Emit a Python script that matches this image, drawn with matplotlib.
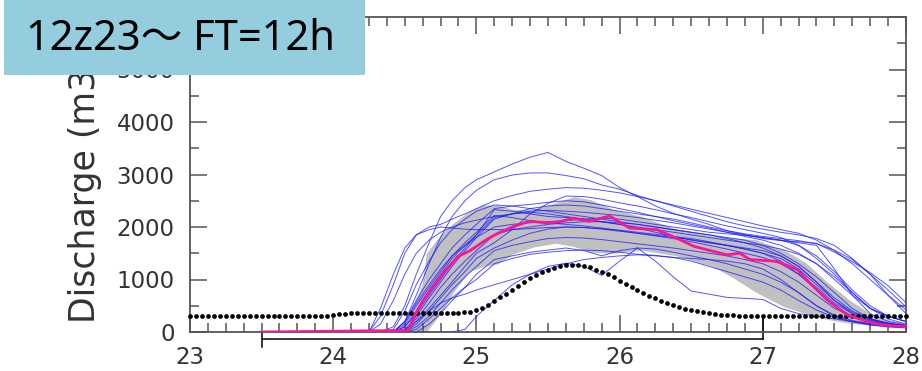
import matplotlib
matplotlib.use("Agg")
import matplotlib.pyplot as plt
from matplotlib.patches import Rectangle
import matplotlib.transforms as mtransforms
import numpy as np

# ---------------- data ----------------
title_text = "12z23～ FT=12h"
ylabel_text = "Discharge (m3/s)"
x_ticks = [23, 24, 25, 26, 27, 28]
y_ticks = [0, 1000, 2000, 3000, 4000, 5000, 6000]
forecast_period = [23.5, 27.0]

# observed discharge, hourly from 23.00 to 28.00
obs_values = [
    310, 310, 310, 310, 310, 310, 310, 310, 310, 310, 310, 310,
    310, 310, 310, 310, 310, 310, 310, 310, 310, 310, 310, 310,
    320, 335, 350, 360, 370, 370, 370, 370, 370, 370, 370, 370,
    370, 370, 365, 362, 360, 360, 362, 365, 370, 370, 372, 380,
    420, 460, 520, 590, 660, 730, 800, 870, 950, 1020, 1080, 1140,
    1180, 1220, 1250, 1270, 1280, 1275, 1260, 1230, 1190, 1150, 1100, 1040,
    980, 920, 860, 800, 740, 690, 640, 590, 550, 510, 475, 445,
    420, 395, 375, 358, 345, 333, 325, 318, 313, 310, 310, 310,
    310, 310, 310, 310, 310, 310, 310, 310, 310, 310, 310, 310,
    310, 310, 310, 310, 310, 310, 310, 310, 310, 310, 310, 310,
    310,
]

# spread band (shaded)
band_t = [24.45, 24.55, 24.62, 24.65, 24.75, 24.85, 24.95, 25.05, 25.15, 25.25,
          25.4, 25.55, 25.68, 25.8, 25.95, 26.15, 26.4, 26.65, 26.8, 26.95,
          27.15, 27.3, 27.45, 27.6, 27.75, 27.9, 28.0]
band_upper = [0, 450, 900, 1500, 1850, 2100, 2300, 2420, 2420, 2340,
              2330, 2460, 2580, 2520, 2340, 2200, 1960, 1830, 1790, 1760,
              1560, 1320, 950, 620, 350, 220, 170]
band_lower = [0, 0, 0, 0, 350, 800, 1150, 1250, 1300, 1480,
              1620, 1690, 1630, 1520, 1500, 1560, 1450, 1250, 1020, 760,
              480, 350, 240, 170, 140, 110, 100]

# ensemble mean (magenta)
mean_t = [23.5, 24.52, 24.59, 24.63, 24.75, 24.87, 24.95, 25.07, 25.15, 25.26,
          25.37, 25.49, 25.58, 25.68, 25.74, 25.79, 25.93, 26.07, 26.26, 26.42,
          26.52, 26.75, 26.84, 26.91, 27.1, 27.24, 27.33, 27.45, 27.59, 27.73,
          27.84, 28.0]
mean_v = [0, 30, 420, 610, 1060, 1440, 1540, 1760, 1880, 2010,
          2110, 2080, 2100, 2170, 2130, 2110, 2210, 1980, 1950, 1760,
          1630, 1470, 1500, 1380, 1345, 1190, 930, 610, 325, 200,
          135, 100]

# ensemble members (blue)
member_t = [24.25, 24.33, 24.42, 24.5, 24.58, 24.67, 24.75, 24.83, 24.92, 25.0,
            25.125, 25.25, 25.375, 25.5, 25.625, 25.75, 25.875, 26.0, 26.125, 26.25,
            26.375, 26.5, 26.625, 26.75, 26.875, 27.0, 27.125, 27.25, 27.375, 27.5,
            27.625, 27.75, 27.875, 28.0]
m01 = [0, 0, 100, 500, 1100, 1700, 2200, 2500, 2750, 2900,
       3050, 3200, 3330, 3420, 3250, 3120, 2980, 2750, 2580, 2400,
       2260, 2150, 2050, 1930, 1850, 1780, 1740, 1720, 1690, 1520,
       1340, 1130, 880, 560]
m02 = [0, 0, 0, 200, 700, 1300, 1800, 2200, 2500, 2700,
       2900, 2990, 3030, 3030, 2980, 2920, 2800, 2720, 2600, 2500,
       2400, 2300, 2200, 2100, 2020, 1960, 1900, 1850, 1780, 1650,
       1400, 1100, 800, 480]
m03 = [0, 300, 900, 1500, 1850, 2000, 2050, 2150, 2250, 2350,
       2500, 2600, 2680, 2720, 2750, 2740, 2700, 2650, 2580, 2500,
       2420, 2340, 2260, 2180, 2100, 2020, 1950, 1880, 1750, 1550,
       1300, 1000, 700, 420]
m04 = [0, 0, 0, 200, 600, 1000, 1300, 1600, 1850, 2050,
       2350, 2400, 2430, 2470, 2500, 2480, 2420, 2350, 2280, 2200,
       2120, 2050, 1980, 1900, 1820, 1750, 1650, 1500, 1300, 1000,
       700, 450, 300, 200]
m05 = [0, 0, 50, 400, 900, 1350, 1700, 1950, 2150, 2300,
       2420, 2400, 2350, 2300, 2250, 2200, 2150, 2100, 2050, 2000,
       1950, 1900, 1850, 1800, 1750, 1650, 1500, 1300, 1050, 750,
       450, 250, 150, 100]
m06 = [0, 0, 0, 0, 200, 450, 700, 950, 1250, 1500,
       1700, 1950, 2250, 2450, 2590, 2580, 2530, 2460, 2400, 2330,
       2250, 2180, 2100, 2020, 1950, 1880, 1800, 1650, 1400, 1100,
       750, 450, 300, 200]
m07 = [0, 0, 0, 150, 500, 850, 1150, 1450, 1700, 1900,
       2220, 2180, 2120, 2080, 2050, 2020, 1980, 1930, 1880, 1830,
       1780, 1720, 1650, 1580, 1500, 1420, 1300, 1100, 850, 550,
       350, 230, 160, 120]
m08 = [0, 0, 0, 100, 350, 700, 1000, 1300, 1600, 1850,
       2330, 2300, 2250, 2200, 2180, 2150, 2100, 2050, 1980, 1900,
       1820, 1750, 1700, 1650, 1600, 1550, 1450, 1250, 950, 600,
       350, 220, 150, 100]
m09 = [0, 0, 0, 50, 250, 550, 850, 1100, 1350, 1550,
       1850, 1950, 2000, 2050, 2080, 2100, 2100, 2080, 2050, 2000,
       1950, 1900, 1850, 1780, 1700, 1600, 1450, 1250, 950, 650,
       400, 250, 170, 120]
m10 = [0, 0, 0, 0, 150, 400, 650, 900, 1150, 1400,
       1600, 1750, 1880, 1960, 2000, 1990, 1960, 1920, 1880, 1840,
       1800, 1760, 1700, 1650, 1580, 1500, 1400, 1200, 900, 600,
       380, 250, 170, 120]
m11 = [0, 0, 0, 0, 100, 300, 550, 800, 1050, 1250,
       1550, 1650, 1720, 1780, 1800, 1790, 1760, 1720, 1680, 1640,
       1600, 1550, 1500, 1450, 1380, 1300, 1150, 950, 700, 450,
       300, 200, 140, 100]
m12 = [0, 0, 0, 0, 0, 150, 350, 600, 850, 1100,
       1380, 1450, 1520, 1560, 1600, 1550, 1450, 1550, 1600, 1580,
       1520, 1450, 1380, 1300, 1200, 1100, 950, 750, 500, 320,
       220, 160, 120, 90]
m13 = [0, 0, 0, 0, 0, 0, 0, 0, 50, 300,
       600, 900, 1100, 1250, 1310, 1250, 1080, 1350, 1600, 1350,
       1050, 780, 720, 660, 640, 620, 450, 350, 300, 250,
       200, 160, 120, 90]
m14 = [0, 0, 0, 0, 50, 250, 450, 650, 850, 1000,
       1300, 1400, 1480, 1520, 1550, 1560, 1550, 1520, 1480, 1450,
       1420, 1400, 1380, 1350, 1300, 1200, 1000, 750, 500, 300,
       200, 140, 100, 80]
m15 = [0, 0, 0, 50, 200, 400, 550, 650, 720, 800,
       900, 1000, 1100, 1200, 1300, 1380, 1420, 1450, 1470, 1460,
       1420, 1350, 1250, 1150, 1050, 950, 800, 600, 420, 280,
       190, 130, 100, 80]
m16 = [0, 150, 600, 1100, 1500, 1750, 1900, 2000, 2080, 2130,
       2200, 2250, 2280, 2250, 2200, 2150, 2100, 2050, 2000, 1950,
       1900, 1850, 1800, 1750, 1700, 1650, 1580, 1480, 1300, 1050,
       750, 450, 250, 150]
m17 = [0, 0, 0, 200, 550, 900, 1200, 1450, 1650, 1800,
       2000, 2050, 2080, 2100, 2120, 2150, 2170, 2150, 2100, 2050,
       2000, 1950, 1900, 1870, 1840, 1800, 1750, 1650, 1450, 1150,
       800, 500, 300, 200]
m18 = [0, 0, 0, 100, 400, 800, 1100, 1400, 1650, 1850,
       2180, 2250, 2300, 2320, 2300, 2280, 2250, 2220, 2180, 2130,
       2080, 2020, 1960, 1900, 1850, 1800, 1750, 1700, 1650, 1200,
       700, 350, 200, 130]
m19 = [0, 0, 0, 0, 300, 650, 950, 1250, 1550, 1800,
       2150, 2250, 2350, 2400, 2420, 2400, 2350, 2300, 2250, 2200,
       2150, 2080, 2000, 1930, 1870, 1820, 1780, 1740, 1680, 1560,
       1380, 1100, 700, 350]
m20 = [0, 450, 1100, 1600, 1850, 1950, 2000, 1980, 1960, 1950,
       1950, 1950, 1970, 1990, 2000, 1990, 1970, 1940, 1900, 1860,
       1820, 1780, 1720, 1650, 1580, 1500, 1350, 1100, 800, 500,
       300, 200, 140, 100]
members = [m01, m02, m03, m04, m05, m06, m07, m08, m09, m10,
           m11, m12, m13, m14, m15, m16, m17, m18, m19, m20]

# ---------------- figure ----------------
W, H = 922, 371
fig = plt.figure(figsize=(W / 100, H / 100), dpi=100)
ax_l, ax_r, ax_t, ax_b = 190, 906, 17, 332
ax = fig.add_axes([ax_l / W, 1 - ax_b / H, (ax_r - ax_l) / W, (ax_b - ax_t) / H])

frame_col = "#555555"
text_col = "#333333"

ax.fill_between(band_t, band_lower, band_upper, color="#c0c0c0", lw=0, zorder=1)
for m in members:
    ax.plot(member_t, m, color="#1a1aff", lw=0.7, alpha=0.75, zorder=2)

obs_t = [23 + h / 24 for h in range(len(obs_values))]
ax.plot(obs_t, obs_values, ls="none", marker="o", ms=3.4, color="black",
        mec="black", mew=0, zorder=3, clip_on=False)
ax.plot(mean_t, mean_v, color="#ff1493", lw=2.0, zorder=4)

ax.set_xlim(23, 28)
ax.set_ylim(0, 6000)
ax.set_xticks(x_ticks)
ax.set_xticks(np.arange(23, 28.01, 0.125), minor=True)
ax.set_yticks(y_ticks)
ax.set_yticks(np.arange(0, 6001, 500), minor=True)
ax.set_xticklabels([str(v) for v in x_ticks])
ax.set_yticklabels([str(v) for v in y_ticks])

ax.tick_params(which="both", direction="in", top=True, right=True,
               color=frame_col, width=1.1)
ax.tick_params(which="major", length=12)
ax.tick_params(which="minor", length=6.5)
ax.tick_params(axis="x", which="major", labelsize=16.5, labelcolor=text_col, pad=10)
ax.tick_params(axis="y", which="major", labelsize=16.5, labelcolor=text_col, pad=11)
for s in ax.spines.values():
    s.set_color(frame_col)
    s.set_linewidth(1.3)

ax.set_ylabel(ylabel_text, fontsize=25, color=text_col)
ax.yaxis.set_label_coords((102 - ax_l) / (ax_r - ax_l), 0.5)

# forecast period indicator below the axis
trans = mtransforms.blended_transform_factory(ax.transData, ax.transAxes)
y_line = -(339 - ax_b) / (ax_b - ax_t)
ax.plot(forecast_period, [y_line, y_line], color="black", lw=1.1,
        transform=trans, clip_on=False)
ax.plot([forecast_period[0]] * 2, [-(333 - ax_b) / (ax_b - ax_t), -(347 - ax_b) / (ax_b - ax_t)],
        color="black", lw=1.1, transform=trans, clip_on=False)
ax.plot([forecast_period[1]] * 2, [(ax_b - 319) / (ax_b - ax_t), y_line],
        color="black", lw=1.1, transform=trans, clip_on=False)

# title box
fig.patches.append(Rectangle((4 / W, 1 - 75 / H), 361 / W, 75 / H,
                             transform=fig.transFigure, facecolor="#94cddd",
                             edgecolor="none", zorder=10))
fig.text(26 / W, 1 - 39 / H, title_text, fontsize=30, color="black",
         family=["Noto Sans", "Noto Sans CJK JP"], ha="left", va="center", zorder=11)

fig.savefig("out.png", dpi=100)
